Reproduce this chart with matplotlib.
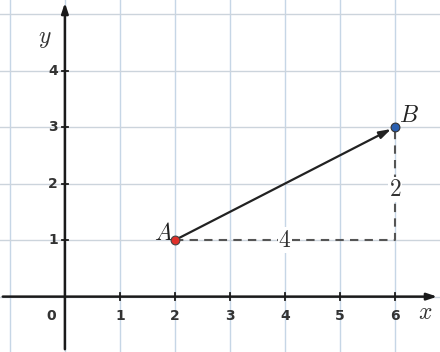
import matplotlib.pyplot as plt
import numpy as np

# tick positions and labels
x_ticks = [1, 2, 3, 4, 5, 6]
y_ticks = [1, 2, 3, 4]
grid_x = [-1, 0, 1, 2, 3, 4, 5, 6]
grid_y = [-1, 0, 1, 2, 3, 4, 5]

# vector endpoints
A = (2, 1)
B = (6, 3)

plt.rcParams['mathtext.fontset'] = 'cm'

fig = plt.figure(figsize=(4.4, 3.52), dpi=100)
ax = fig.add_axes([0, 0, 1, 1])
ax.set_xlim(-1.18, 6.82)
ax.set_ylim(-0.98, 5.25)
ax.axis('off')

for gx in grid_x:
    ax.axvline(gx, color='#c6d6e6', lw=1.0, zorder=0)
for gy in grid_y:
    ax.axhline(gy, color='#ccd4dc', lw=1.0, zorder=0)

# axes with arrows
ax.annotate('', xy=(6.82, 0), xytext=(-1.18, 0),
            arrowprops=dict(arrowstyle='-|>,head_length=0.6,head_width=0.2', color='#1a1a1a', lw=1.8))
ax.annotate('', xy=(0, 5.25), xytext=(0, -0.98),
            arrowprops=dict(arrowstyle='-|>,head_length=0.6,head_width=0.2', color='#1a1a1a', lw=1.8))

for t in x_ticks:
    ax.plot([t, t], [-0.06, 0.06], color='#1a1a1a', lw=1.3)
    ax.text(t, -0.22, str(t), ha='center', va='top', fontsize=10, fontweight='bold', color='#333333')
for t in y_ticks:
    ax.plot([-0.06, 0.06], [t, t], color='#1a1a1a', lw=1.3)
    ax.text(-0.13, t, str(t), ha='right', va='center', fontsize=10, fontweight='bold', color='#333333')
ax.text(-0.25, -0.22, '0', ha='center', va='top', fontsize=10, fontweight='bold', color='#333333')

ax.text(6.55, -0.28, '$x$', ha='center', va='center', fontsize=17, color='#333333')
ax.text(-0.36, 4.58, '$y$', ha='center', va='center', fontsize=17, color='#333333')

# dashed legs
ax.plot([A[0], B[0], B[0]], [A[1], A[1], B[1]], color='#555555', lw=1.5, ls=(0, (4, 3)), zorder=2)

# vector A -> B
ax.annotate('', xy=B, xytext=A,
            arrowprops=dict(arrowstyle='-|>,head_length=0.7,head_width=0.22', color='#222222', lw=1.6,
                            shrinkA=0, shrinkB=3), zorder=3)

ax.scatter([A[0]], [A[1]], s=40, color='#e0302a', edgecolor='#444444', lw=0.8, zorder=4)
ax.scatter([B[0]], [B[1]], s=40, color='#2a5fb0', edgecolor='#333333', lw=0.8, zorder=4)

ax.text(1.8, 1.12, '$A$', ha='center', va='center', fontsize=17, color='#222222')
ax.text(6.25, 3.22, '$B$', ha='center', va='center', fontsize=17, color='#222222')
ax.text(4.0, 1.0, '$4$', ha='center', va='center', fontsize=17, color='#333333',
        bbox=dict(facecolor='white', edgecolor='none', pad=0.5))
ax.text(6.0, 1.9, '$2$', ha='center', va='center', fontsize=17, color='#333333',
        bbox=dict(facecolor='white', edgecolor='none', pad=0.5))

fig.savefig('out.png', dpi=100)
